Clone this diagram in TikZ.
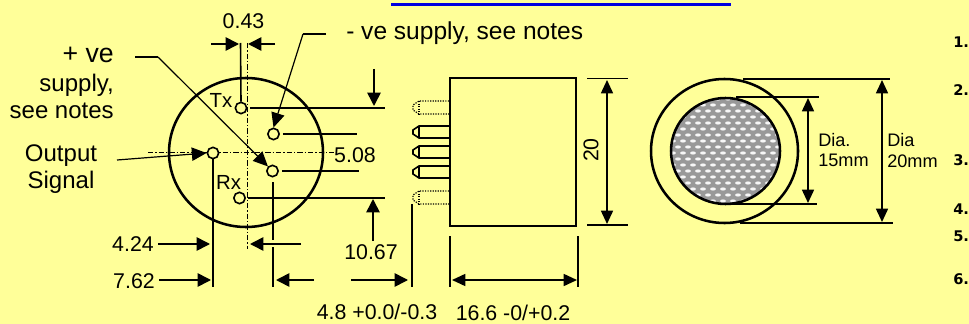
\documentclass[tikz,border=0pt]{standalone}
\usepackage{fontspec}
\setmainfont{Liberation Sans}
\newfontfamily\notefont{DejaVu Sans}
\usepackage{tikz}
\usetikzlibrary{arrows.meta}
\definecolor{paper}{HTML}{FFFF99}
\definecolor{topbar}{HTML}{0000E0}
\definecolor{meshgrey}{HTML}{999999}
\tikzset{
  dim/.style={line width=1.2pt,-{Triangle[length=10pt,width=10pt]}},
  dimboth/.style={line width=1.2pt,{Triangle[length=10pt,width=9pt]}-{Triangle[length=10pt,width=9pt]}},
  leader/.style={line width=0.9pt},
  rule/.style={line width=1.2pt},
  centre/.style={line width=0.6pt,dash pattern=on 4pt off 1.5pt on 1pt off 1.5pt},
  hole/.style={circle,draw,line width=1.2pt,inner sep=0pt,minimum size=8.5pt,fill=paper},
  dimtext/.style={inner sep=0pt,font=\fontsize{16}{18}\selectfont},
  lab/.style={inner sep=0pt,font=\fontsize{18}{20}\selectfont},
  big/.style={inner sep=0pt,font=\fontsize{20}{22}\selectfont},
  small/.style={inner sep=0pt,font=\fontsize{13.6}{16}\selectfont},
  num/.style={inner sep=0pt,font=\notefont\bfseries\fontsize{11}{12}\selectfont}
}
\begin{document}
\begin{tikzpicture}[x=0.75pt,y=-0.75pt]
\fill[paper] (0,0) rectangle (969,324);
\useasboundingbox (0,0) rectangle (969,324);
\draw[topbar,line width=2.2pt] (391,4.5) -- (731,4.5);

\draw[line width=1.9pt] (246,152.5) circle [x radius=77,y radius=74.5];	%front
\draw[centre] (247,43) -- (247,249);
\draw[centre] (148,152.7) -- (334,152.7);

\node[hole] (tx) at (241,108) {};
\node[hole] (neg) at (273.5,134) {};
\node[hole] (out) at (213,153) {};
\node[hole] (pos) at (272.5,171) {};
\node[hole] (rx) at (239.5,198) {};
\draw[rule] (tx.east) ++(3,0) -- (385,108);
\draw[rule] (neg.east) ++(3,0) -- (357,134);
\draw[rule] (pos.east) ++(3,0) -- (359,171);
\draw[rule] (rx.east) ++(2,0) -- (385,198);

\node[dimtext] (pitch) at (243.5,21) {0.43};
\draw[rule] (tx.north) -- (240.5,43);
\draw[dim] (211,44) -- (239,44);
\draw[dim] (275,44) -- (248,44);

\node[lab,font=\fontsize{18.4}{20}\selectfont,anchor=west] (minus) at (346,33) {- ve supply, see notes};
\draw[leader] (326,34) -- (303,34);
\draw[leader,-{Triangle[length=11pt,width=10pt]}] (303,34) -- (neg.north);

\node[big,anchor=east] (plus) at (114,55) {+ ve};
\node[lab,anchor=east] (supply) at (114,85) {supply,};
\node[lab,anchor=east] (notes) at (114,111) {see notes};
\draw[leader] (135,57) -- (158,57);
\draw[leader,-{Triangle[length=11pt,width=10pt]}] (158,57) -- (pos.north west);

\node[lab] (output) at (61,156) {Output};
\node[lab] (signal) at (61,182) {Signal};
\draw[leader,-{Triangle[length=11pt,width=10pt]}] (117,160) -- (out.west);

\node[small,font=\fontsize{15.3}{17}\selectfont] (txl) at (221,100) {Tx};
\node[small,font=\fontsize{15.3}{17}\selectfont] (rxl) at (228.5,182) {Rx};
\node[dimtext] (pinc) at (355,155) {5.08};

\draw[dim] (374,69) -- (374,106);
\draw[dim] (373,241) -- (373,199);
\node[dimtext] (drop) at (371,252) {10.67};

\draw[rule] (out.south) -- (213,287);
\draw[rule] (273,182) -- (273,240);
\draw[rule] (273,247) -- (273,287);
\node[dimtext] (four) at (133,244) {4.24};
\node[dimtext] (seven) at (134,281) {7.62};
\draw[dim] (158,244) -- (210,244);
\draw[dim] (301,244) -- (250,244);
\draw[dim] (159,280) -- (211,280);
\draw[dim] (314,280) -- (276,280);

\draw[line width=1.9pt] (450,78) rectangle (576,226);	%can
\foreach \ya in {126,146,166} {
  \draw[rule] (449,\ya) -- (419,\ya) -- (413,\ya+4) -- (413,\ya+8) -- (419,\ya+12) -- (449,\ya+12);
  \draw[rule] (419,\ya) -- (419,\ya+12);
}
\foreach \ya in {101,191} {
  \draw[leader,densely dotted] (449,\ya) -- (419,\ya) -- (413,\ya+4) -- (413,\ya+9) -- (419,\ya+13) -- (449,\ya+13);
  \draw[leader,densely dotted] (419,\ya) -- (419,\ya+13);
}

\draw[rule] (412,204) -- (412,287);
\draw[dim] (351,280) -- (408,280);
\node[dimtext] (pinlen) at (377,312) {4.8 +0.0/-0.3};
\draw[rule] (450,236) -- (450,287);
\draw[rule] (578,236) -- (578,287);
\draw[dimboth] (452,280) -- (577,280);
\node[dimtext] (canlen) at (513,313) {16.6 -0/+0.2};

\draw[rule] (587,78.5) -- (628,78.5);
\draw[rule] (587,225) -- (628,225);
\draw[dimboth] (607,80) -- (607,224);
\node[dimtext,rotate=90] (canh) at (591,150) {20};

\begin{scope}
\clip (725.5,151) circle [x radius=54.5,y radius=53];
\fill[meshgrey] (670,97) rectangle (781,205);
\foreach \i in {0,...,17} {
  \foreach \j in {0,...,11} {
    \fill[white!92!meshgrey] ({668+\j*10+mod(\i,2)*5},{99+\i*6}) ellipse [x radius=2.9,y radius=1.6];
  }
}
\end{scope}
\draw[line width=1.9pt] (725.5,151) circle [x radius=54.5,y radius=53];	%mesh
\draw[line width=1.9pt] (724.5,151) circle [x radius=73.5,y radius=72];	%body

\draw[rule] (736,97) -- (819,97);
\draw[rule] (733,204) -- (817,204);
\draw[rule] (743,79) -- (890,79);
\draw[rule] (740,223) -- (893,223);
\draw[dimboth] (808,98) -- (808,203);
\draw[dimboth] (882,80) -- (882,222);
\node[small,anchor=west] (diaa) at (818,140) {Dia.};
\node[small,anchor=west] (meshd) at (818,160) {15mm};
\node[small,anchor=west] (diab) at (887,140) {Dia};
\node[small,anchor=west] (bodyd) at (887,161) {20mm};

\node[num,anchor=west] (noteone) at (953,42) {1.};
\node[num,anchor=west] (notetwo) at (953,90) {2.};
\node[num,anchor=west] (notethree) at (953,160) {3.};
\node[num,anchor=west] (notefour) at (953,209) {4.};
\node[num,anchor=west] (notefive) at (953,236) {5.};
\node[num,anchor=west] (notesix) at (953,279) {6.};
\end{tikzpicture}
\end{document}
